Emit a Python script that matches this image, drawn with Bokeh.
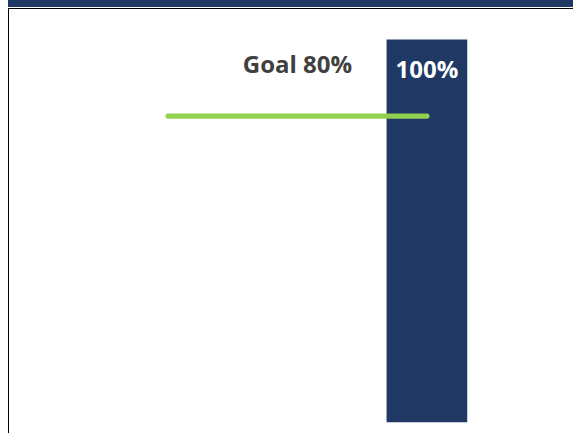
from bokeh.plotting import figure
from bokeh.models import Range1d, ColumnDataSource
from bokeh.core.properties import value
from bokeh.embed import file_html
from bokeh.resources import INLINE

# ---- data ----
categories = ["Goal", "Actual"]      # category slots (index 0 and 1)
actual_values = [100]                # bar value (%)
actual_positions = [1]               # bar sits in category slot 1
goal_value = 80                      # goal (%)
goal_span = [0, 1]                   # goal line runs from slot 0 to slot 1
goal_label = "Goal 80%"
actual_labels = ["100%"]

NAVY = "#1F3864"
GREEN = "#92D050"

p = figure(
    width=573, height=433,
    x_range=Range1d(-0.6476, 1.5665),
    y_range=Range1d(-2.953, 110.19),
    output_backend="svg",
    toolbar_location=None,
    x_axis_location=None, y_axis_location=None,
    title=None,
    min_border=0,
)
p.grid.visible = False
p.outline_line_color = None
p.border_fill_alpha = 0
p.background_fill_alpha = 0
p.styles = {
    "background": (
        f"linear-gradient({NAVY},{NAVY}) 8px 0 / 100% 7px no-repeat, "
        "linear-gradient(#000,#000) 8px 8.3px / 100% 1.4px no-repeat, "
        "linear-gradient(#000,#000) 8.2px 8.3px / 1.4px 100% no-repeat, "
        "#ffffff"
    ),
}

bars = ColumnDataSource(dict(x=actual_positions, top=actual_values, label=actual_labels))
p.vbar(x="x", top="top", bottom=0, width=0.3118, source=bars,
       fill_color=NAVY, line_color=None)

p.line(x=goal_span, y=[goal_value] * len(goal_span),
       line_color=GREEN, line_width=5.3, line_cap="round")

p.text(x=[sum(goal_span) / len(goal_span)], y=[goal_value], text=[goal_label],
       text_font=value("Open Sans"), text_font_style="bold", text_font_size="24px",
       text_color="#404040", text_align="center", text_baseline="alphabetic",
       y_offset=-52.5)

p.text(x="x", y="top", text="label", source=bars,
       text_font=value("Open Sans"), text_font_style="bold", text_font_size="24px",
       text_color="#ffffff", text_align="center", text_baseline="alphabetic",
       y_offset=29)

open("out.html", "w").write(file_html(p, INLINE))
